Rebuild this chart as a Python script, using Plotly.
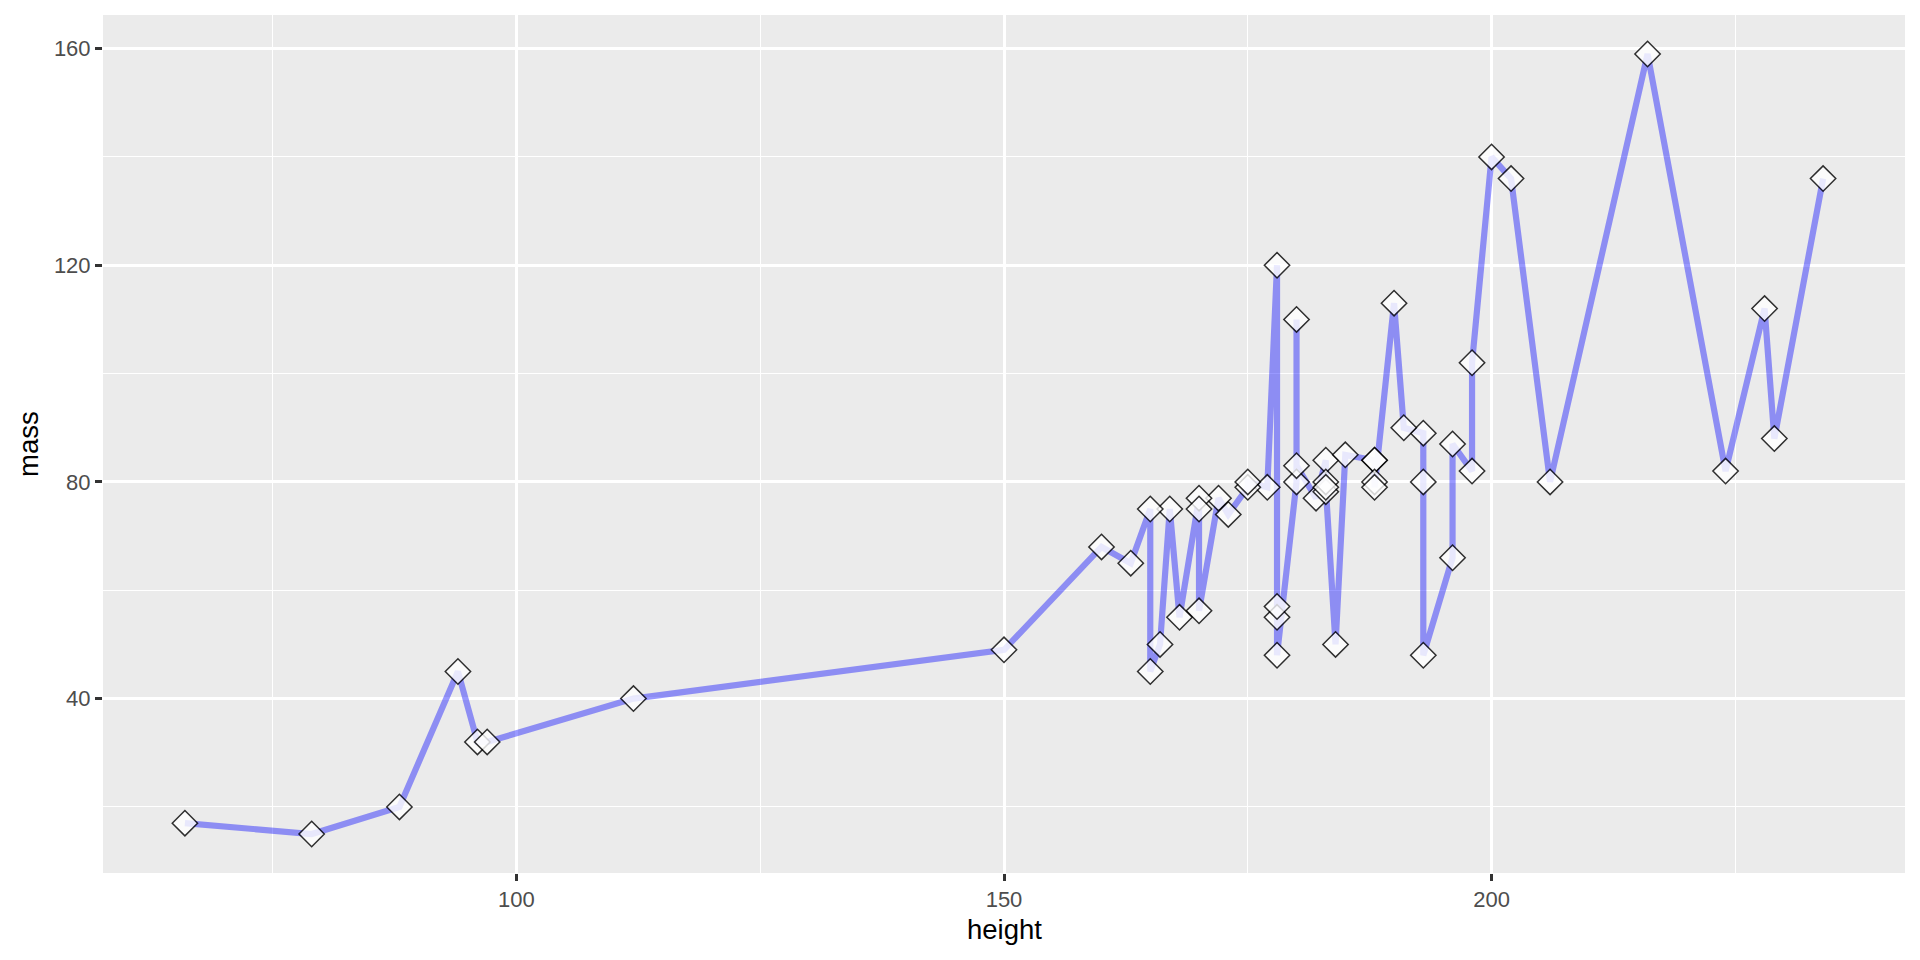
import plotly.graph_objects as go

# starwars characters with known height & mass (mass < 200), in dataset order
names = ["Luke Skywalker", "C-3PO", "R2-D2", "Darth Vader", "Leia Organa", "Owen Lars",
         "Beru Whitesun lars", "R5-D4", "Biggs Darklighter", "Obi-Wan Kenobi",
         "Anakin Skywalker", "Chewbacca", "Han Solo", "Greedo", "Wedge Antilles",
         "Jek Tono Porkins", "Yoda", "Palpatine", "Boba Fett", "IG-88", "Bossk",
         "Lando Calrissian", "Lobot", "Ackbar", "Wicket Systri Warrick", "Nien Nunb",
         "Qui-Gon Jinn", "Nute Gunray", "Padmé Amidala", "Jar Jar Binks", "Roos Tarpals",
         "Sebulba", "Darth Maul", "Ayla Secura", "Ratts Tyerell", "Dud Bolt",
         "Ben Quadinaros", "Mace Windu", "Ki-Adi-Mundi", "Kit Fisto", "Adi Gallia",
         "Plo Koon", "Gregar Typho", "Poggle the Lesser", "Luminara Unduli",
         "Barriss Offee", "Dooku", "Jango Fett", "Zam Wesell", "Dexter Jettster",
         "Lama Su", "Wat Tambor", "Shaak Ti", "Grievous", "Tarfful", "Raymus Antilles",
         "Sly Moore", "Tion Medon"]
height = [172, 167, 96, 202, 150, 178, 165, 97, 183, 182,
          188, 228, 180, 173, 170, 180, 66, 170, 183, 200, 190,
          177, 175, 180, 88, 160, 193, 191, 165, 196, 224,
          112, 175, 178, 79, 94, 163, 188, 198, 196, 184,
          188, 185, 183, 170, 166, 193, 183, 168, 198,
          229, 193, 178, 216, 234, 188, 178, 206]
mass = [77, 75, 32, 136, 49, 120, 75, 32, 84, 77,
        84, 112, 80, 74, 77, 110, 17, 75, 78.2, 140, 113,
        79, 79, 83, 20, 68, 89, 90, 45, 66, 82,
        40, 80, 55, 15, 45, 65, 84, 82, 87, 50,
        80, 85, 80, 56.2, 50, 80, 79, 55, 102,
        88, 48, 57, 159, 136, 79, 48, 80]

x_ticks = [100, 150, 200]
y_ticks = [40, 80, 120, 160]

# geom_line connects points ordered by x (stable order for ties)
order = sorted(range(len(height)), key=lambda i: height[i])
xs = [height[i] for i in order]
ys = [mass[i] for i in order]

font = "Liberation Sans, Arial, sans-serif"

fig = go.Figure()
fig.add_trace(go.Scatter(
    x=xs, y=ys, mode="lines",
    line=dict(color="rgba(0,0,255,0.4)", width=6.2),
    hoverinfo="skip", showlegend=False))
fig.add_trace(go.Scatter(
    x=height, y=mass, mode="markers", text=names,
    marker=dict(symbol="diamond", size=19.5, color="white", opacity=0.8,
                line=dict(color="black", width=1.5)),
    showlegend=False))

xr = (min(height), max(height))
yr = (min(mass), max(mass))
xpad = (xr[1] - xr[0]) * 0.05
ypad = (yr[1] - yr[0]) * 0.05

axis_common = dict(
    showline=False, zeroline=False, ticks="outside", ticklen=7, tickwidth=2.7,
    tickcolor="#333333", gridcolor="white", gridwidth=2.7,
    tickfont=dict(family=font, size=22, color="#4D4D4D"),
)

fig.update_xaxes(
    range=[xr[0] - xpad, xr[1] + xpad], tickmode="array", tickvals=x_ticks,
    minor=dict(tickmode="linear", tick0=25, dtick=25, gridcolor="white",
               gridwidth=1.4, ticks=""),
    **axis_common)
fig.update_yaxes(
    range=[yr[0] - ypad, yr[1] + ypad], tickmode="array", tickvals=y_ticks,
    minor=dict(tickmode="linear", tick0=20, dtick=20, gridcolor="white",
               gridwidth=1.4, ticks=""),
    **axis_common)

fig.update_layout(
    width=1920, height=960,
    margin=dict(l=103, r=15, t=15, b=87, pad=0),
    plot_bgcolor="#EBEBEB", paper_bgcolor="white",
    font=dict(family=font),
    annotations=[
        dict(text="height", xref="paper", yref="paper", x=0.5, y=0,
             yshift=-56, xanchor="center", yanchor="middle", showarrow=False,
             font=dict(family=font, size=27.5, color="black")),
        dict(text="mass", xref="paper", yref="paper", x=0, y=0.5,
             xshift=-75, xanchor="center", yanchor="middle", textangle=-90,
             showarrow=False, font=dict(family=font, size=27.5, color="black")),
    ],
)

fig.write_html("out.html",
               config={"displayModeBar": False},
               post_script="document.body.style.margin='0';"
                           "document.body.style.overflow='hidden';")
